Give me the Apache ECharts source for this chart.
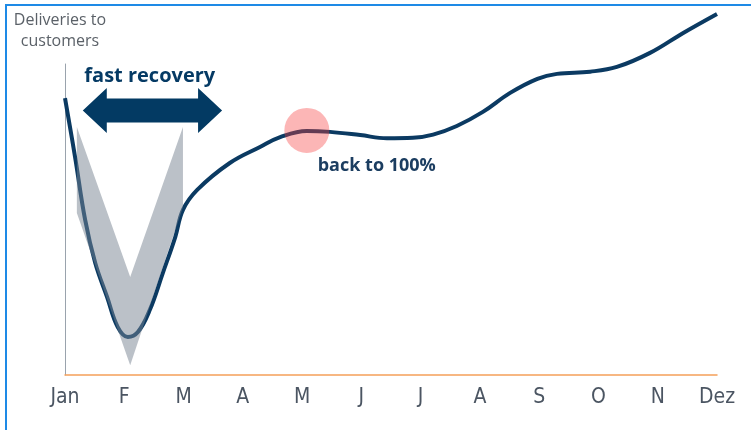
<!DOCTYPE html>
<html lang="de">
<head>
<meta charset="UTF-8">
<title>Deliveries to customers</title>
<script src="https://cdn.jsdelivr.net/npm/echarts@6/dist/echarts.min.js"></script>
<style>
  html, body { margin: 0; padding: 0; background: #fff; }
  #chart { width: 751px; height: 430px; }
  #frame {
    position: absolute; left: 5px; top: 4px; right: 0; bottom: 0;
    border-top: 2px solid #1e8ae6; border-left: 2px solid #1e8ae6;
    pointer-events: none;
  }
</style>
</head>
<body>
<div id="chart"></div>
<div id="frame"></div>
<script>
// month labels on the x axis
var months = ['Jan', 'F', 'M', 'A', 'M', 'J', 'J', 'A', 'S', 'O', 'N', 'Dez'];

// delivery curve: x = month index (0 = Jan), y = level (100 = normal)
var deliveryX = [0, 0.17, 0.34, 0.51, 0.71, 0.89, 1.06, 1.23, 1.43, 1.65, 1.86, 1.99,
                 2.23, 2.78, 3.29, 3.63, 4.08, 4.47, 4.98, 5.43, 5.87, 6.21, 6.61,
                 7.05, 7.51, 7.97, 8.30, 8.86, 9.31, 9.87, 10.43, 11];
var deliveryY = [112.2, 88.3, 62.8, 45.4, 31.6, 19.4, 15.4, 17.4, 26.3, 41.3, 55.9, 66.9,
                 75.0, 85.9, 92.4, 96.4, 98.9, 98.5, 97.2, 95.9, 96.1, 97.4, 100.9,
                 106.6, 114.3, 120.0, 122.0, 122.9, 124.8, 130.5, 138.6, 146.3];

// grey uncertainty band around the dip (polygon corners)
var bandX = [0.2, 0.2, 1.1, 1.99, 1.99, 1.1];
var bandY = [100.5, 65.6, 4.0, 68.1, 100.5, 39.7];

// "fast recovery" arrow: from month, to month, level
var arrowSpan = [0.3, 2.65, 107.2];

// "back to 100%" marker
var markerX = [4.08];
var markerY = [99.1];

// annotation texts: [x, y, text]
var notes = [
  [1.43, 121.0, 'fast recovery'],
  [5.26, 84.7, 'back to 100%']
];

var navy = '#0b3a62';
var chart = echarts.init(document.getElementById('chart'));

var option = {
  animation: false,
  grid: { left: 65, right: 34, top: 64, bottom: 55 },
  graphic: [{
    type: 'text', x: 60, y: 10,
    style: {
      text: 'Deliveries to\ncustomers', align: 'center', verticalAlign: 'top',
      fontFamily: 'Open Sans', fontSize: 16, lineHeight: 21, fill: '#5b6168'
    }
  }],
  xAxis: {
    type: 'value', min: 0, max: 11, interval: 1,
    axisLine: { lineStyle: { color: '#f5a05a', width: 1.5 } },
    axisTick: { show: false },
    splitLine: { show: false },
    axisLabel: {
      margin: 12, color: '#4b5562', fontSize: 21,
      fontFamily: '"Liberation Sans Narrow", "DejaVu Sans Condensed", sans-serif',
      showMinLabel: true, showMaxLabel: true,
      formatter: function (v) { return months[v]; }
    }
  },
  yAxis: {
    type: 'value', min: 0, max: 126,
    axisLine: { show: true, lineStyle: { color: '#9aa3ad', width: 1 } },
    axisTick: { show: false },
    axisLabel: { show: false },
    splitLine: { show: false }
  },
  series: [
    {
      type: 'line',
      data: deliveryX.map(function (x, i) { return [x, deliveryY[i]]; }),
      smooth: 0.4,
      showSymbol: false,
      clip: false,
      z: 2,
      lineStyle: { color: navy, width: 4 }
    },
    {
      type: 'custom',
      z: 3,
      data: bandX.map(function (x, i) { return [x, bandY[i]]; }),
      renderItem: function (params, api) {
        if (params.dataIndex !== 0) return null;
        var pts = bandX.map(function (x, i) { return api.coord([x, bandY[i]]); });
        return {
          type: 'polygon',
          shape: { points: pts },
          style: { fill: 'rgba(120,132,146,0.5)' }
        };
      }
    },
    {
      type: 'custom',
      z: 3,
      data: [arrowSpan],
      renderItem: function (params, api) {
        var a = api.coord([api.value(0), api.value(2)]);
        var b = api.coord([api.value(1), api.value(2)]);
        var head = 24, half = 22.5, shaft = 12;
        return {
          type: 'polygon',
          shape: {
            points: [
              [a[0], a[1]], [a[0] + head, a[1] - half], [a[0] + head, a[1] - shaft],
              [b[0] - head, b[1] - shaft], [b[0] - head, b[1] - half], [b[0], b[1]],
              [b[0] - head, b[1] + half], [b[0] - head, b[1] + shaft],
              [a[0] + head, a[1] + shaft], [a[0] + head, a[1] + half]
            ]
          },
          style: { fill: '#033a63' }
        };
      }
    },
    {
      type: 'scatter',
      z: 4,
      data: markerX.map(function (x, i) { return [x, markerY[i]]; }),
      symbolSize: 45,
      itemStyle: { color: 'rgba(248,60,60,0.47)' }
    },
    {
      type: 'custom',
      z: 5,
      data: notes,
      renderItem: function (params, api) {
        var p = api.coord([api.value(0), api.value(1)]);
        var n = notes[params.dataIndex];
        return {
          type: 'text', x: p[0], y: p[1],
          style: {
            text: n[2], align: 'center', verticalAlign: 'middle',
            fontFamily: 'Open Sans', fontWeight: 'bold',
            fontSize: params.dataIndex === 0 ? 20 : 18,
            fill: params.dataIndex === 0 ? '#053a64' : '#1b3d60'
          }
        };
      }
    }
  ]
};

chart.setOption(option);
</script>
</body>
</html>
